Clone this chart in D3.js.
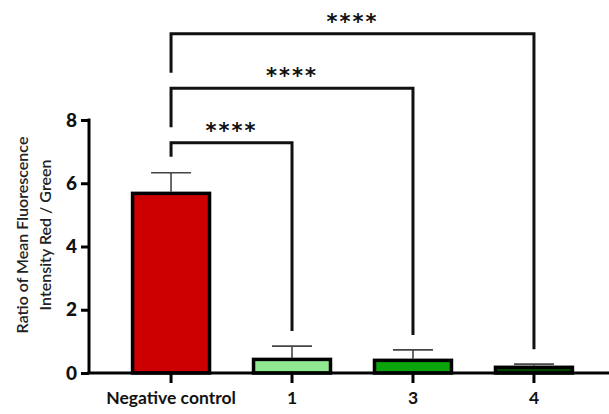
<!DOCTYPE html>
<html>
<head>
<meta charset="utf-8">
<script src="https://cdn.jsdelivr.net/npm/d3@7"></script>
<style>
  body { margin: 0; background: #fff; }
  svg { display: block; font-family: Lato, "Open Sans", sans-serif; }
</style>
</head>
<body>
<div id="viz"></div>
<script>
// Data
const groups = ['Negative control', '1', '3', '4'];
const means = [5.68, 0.43, 0.40, 0.18];
const errors = [0.65, 0.42, 0.33, 0.10];
const colors = ['#cc0000', '#90e890', '#0aa50a', '#004800'];
const yTicks = [0, 2, 4, 6, 8];
// comparisons vs. negative control
const compareTo = ['1', '3', '4'];
const compareLabels = ['****', '****', '****'];

const W = 609, H = 414;
const svg = d3.select('#viz').append('svg')
  .attr('width', W).attr('height', H);

const x = d3.scaleBand()
  .domain(groups)
  .range([110.5, 594.5])
  .paddingInner(0.339)
  .paddingOuter(0.17);

const y = d3.scaleLinear()
  .domain([0, 8])
  .range([373, 120]);

// Bars
svg.selectAll('rect.bar')
  .data(groups)
  .enter()
  .append('rect')
  .attr('class', 'bar')
  .attr('x', d => x(d) + 1.5)
  .attr('width', x.bandwidth() - 3)
  .attr('y', (d, i) => y(means[i]))
  .attr('height', (d, i) => y(0) - y(means[i]))
  .attr('fill', (d, i) => colors[i])
  .attr('stroke', '#000')
  .attr('stroke-width', 3.5);

// Error bars (upper only)
const eb = svg.append('g').attr('stroke', '#444').attr('stroke-width', 1.6);
groups.forEach((g, i) => {
  const cx = x(g) + x.bandwidth() / 2;
  const top = y(means[i] + errors[i]);
  eb.append('line')
    .attr('x1', cx).attr('x2', cx)
    .attr('y1', y(means[i]) - 1.5).attr('y2', top);
  eb.append('line')
    .attr('x1', cx - x.bandwidth() / 4).attr('x2', cx + x.bandwidth() / 4)
    .attr('y1', top).attr('y2', top);
});

// Axes
const yAxis = svg.append('g')
  .attr('transform', 'translate(89,0)')
  .call(d3.axisLeft(y).tickValues(yTicks).tickSize(8).tickPadding(4));
const xAxis = svg.append('g')
  .attr('transform', 'translate(0,373)')
  .call(d3.axisBottom(x).tickSize(10).tickPadding(9));

yAxis.select('.domain').attr('d', 'M0,' + (y(8) - 1.5) + 'V' + y(0)).attr('stroke-width', 3);
xAxis.select('.domain').attr('d', 'M87.5,0H609').attr('stroke-width', 3);
svg.selectAll('.tick line').attr('stroke-width', 3);
yAxis.selectAll('.tick text')
  .attr('font-family', 'Lato, sans-serif')
  .attr('font-weight', 900)
  .attr('font-size', 19)
  .attr('fill', '#111');
xAxis.selectAll('.tick text')
  .attr('font-family', 'Lato, sans-serif')
  .attr('font-weight', 'bold')
  .attr('font-size', 17.5)
  .attr('fill', '#111');

// Y axis title
const yt = svg.append('text')
  .attr('transform', 'translate(0,235) rotate(-90)')
  .attr('text-anchor', 'middle')
  .attr('font-size', 16)
  .attr('font-weight', 600)
  .attr('fill', '#222');
yt.append('tspan').attr('x', 0).attr('y', 28).text('Ratio of Mean Fluorescence');
yt.append('tspan').attr('x', 0).attr('y', 51).text('Intensity Red / Green');

// Significance brackets
const c0 = x(groups[0]) + x.bandwidth() / 2;
const negTop = y(means[0] + errors[0]);
const br = svg.append('g').attr('fill', 'none').attr('stroke', '#111').attr('stroke-width', 3);
compareTo.forEach((g, k) => {
  const i = groups.indexOf(g);
  const cx = x(g) + x.bandwidth() / 2;
  const by = negTop - 30 - k * 54.5;
  const leftEnd = Math.min(by + 39, negTop - 16);
  const rightEnd = y(means[i] + errors[i]) - 15;
  br.append('path')
    .attr('d', `M${c0},${leftEnd}V${by}H${cx}V${rightEnd}`);
  svg.append('text')
    .attr('x', (c0 + cx) / 2)
    .attr('y', by - 5)
    .attr('text-anchor', 'middle')
    .attr('font-family', 'DejaVu Sans, sans-serif')
    .attr('font-weight', 'bold')
    .attr('font-size', 21)
    .attr('letter-spacing', 2)
    .attr('fill', '#111')
    .text(compareLabels[k]);
});
</script>
</body>
</html>
